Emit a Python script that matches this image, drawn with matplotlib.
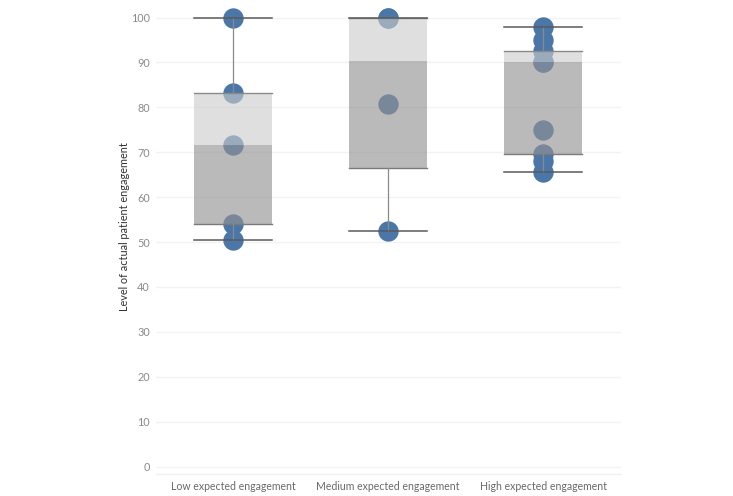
import numpy as np
import matplotlib
matplotlib.use("Agg")
import matplotlib.pyplot as plt

plt.rcParams['font.family'] = ['Lato', 'DejaVu Sans']

categories = ["Low expected engagement", "Medium expected engagement", "High expected engagement"]
low_values = [50.5, 54.0, 71.6, 83.2, 100.0]
medium_values = [52.5, 80.7, 100.0, 100.0]
high_values = [65.5, 68.0, 69.5, 75.0, 90.0, 90.0, 92.6, 95.0, 98.0]
series = [low_values, medium_values, high_values]
y_ticks = [0, 10, 20, 30, 40, 50, 60, 70, 80, 90, 100]
y_label = "Level of actual patient engagement"

W, H = 733, 496
fig = plt.figure(figsize=(W / 100, H / 100), dpi=100)
ax_left, ax_right = 155.5 / W, 620.5 / W
ax_bottom, ax_top = 1 - 474 / H, 1 - 5 / H
ax = fig.add_axes([ax_left, ax_bottom, ax_right - ax_left, ax_top - ax_bottom])

ax.set_xlim(-0.5, 2.5)
ax.set_ylim(-1.67, 102.8)

point_color = "#4a76a8"
light_box = (0.80, 0.80, 0.80, 0.62)
dark_box = (0.575, 0.575, 0.575, 0.64)
line_color = "#5a5a5a"
half = 0.25

for i, vals in enumerate(series):
    v = np.array(vals)
    q1 = np.percentile(v, 25, method="midpoint")
    med = np.percentile(v, 50, method="midpoint")
    q3 = np.percentile(v, 75, method="midpoint")
    lo, hi = v.min(), v.max()
    ax.scatter(np.full(len(v), i), v, s=215, color=point_color, zorder=2, linewidths=0)
    ax.add_patch(plt.Rectangle((i - half, med), 2 * half, q3 - med, facecolor=light_box,
                               edgecolor="none", zorder=3))
    ax.add_patch(plt.Rectangle((i - half, q1), 2 * half, med - q1, facecolor=dark_box,
                               edgecolor="none", zorder=3))
    ax.plot([i - half, i + half], [q3, q3], color="#8a8a8a", lw=1.0, zorder=4)
    ax.plot([i - half, i + half], [q1, q1], color="#7a7a7a", lw=1.0, zorder=4)
    ax.plot([i, i], [q3, hi], color="#8a8a8a", lw=0.9, zorder=4)
    ax.plot([i, i], [lo, q1], color="#8a8a8a", lw=0.9, zorder=4)
    ax.plot([i - half, i + half], [hi, hi], color=line_color, lw=1.1, zorder=4)
    ax.plot([i - half, i + half], [lo, lo], color=line_color, lw=1.1, zorder=4)

ax.set_yticks(y_ticks)
ax.set_yticklabels([str(t) for t in y_ticks], color="#8a8a8a", fontsize=7.8)
ax.set_xticks(range(len(categories)))
ax.set_xticklabels(categories, color="#6a6a6a", fontsize=7.6)
ax.tick_params(axis="both", length=0)
ax.tick_params(axis="y", pad=4)
ax.tick_params(axis="x", pad=5)
ax.grid(axis="y", color="#f3f3f3", lw=1.0, zorder=0)
ax.set_axisbelow(True)
for s in ["top", "right", "left"]:
    ax.spines[s].set_visible(False)
ax.spines["bottom"].set_color("#f0f0f0")
ax.spines["bottom"].set_linewidth(1.0)

fig.text(124.5 / W, 1 - 227 / H, y_label, rotation=90, ha="center", va="center",
         fontsize=7.8, color="#333333")

fig.savefig("out.png", dpi=100)
